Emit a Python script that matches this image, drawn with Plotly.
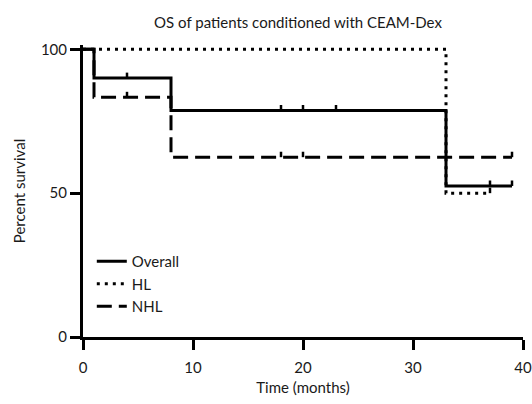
import plotly.graph_objects as go

# Kaplan-Meier step data (time in months, percent survival)
overall_t = [0, 1, 8, 33, 39]
overall_s = [100, 90, 78.75, 52.5, 52.5]
overall_c = [4, 18, 20, 23, 37, 39]

hl_t = [0, 33, 37]
hl_s = [100, 50, 50]
hl_c = [37]

nhl_t = [0, 1, 8, 39]
nhl_s = [100, 83.33, 62.5, 62.5]
nhl_c = [4, 18, 20, 39]

x_ticks = [0, 10, 20, 30, 40]
y_ticks = [0, 50, 100]

FONT = "Lato, sans-serif"
INK = "#1a1a1a"
FS = 15


def surv_at(ts, ss, t):
    idx = 0
    for i, tt in enumerate(ts):
        if tt <= t:
            idx = i
    return ss[idx]


def censor_xy(ts, ss, cs, h=1.9):
    xs, ys = [], []
    for c in cs:
        s = surv_at(ts, ss, c)
        xs += [c, c, None]
        ys += [s, s + h, None]
    return xs, ys


series = [
    ("Overall", overall_t, overall_s, overall_c, "solid"),
    ("HL", hl_t, hl_s, hl_c, "3px,5px"),
    ("NHL", nhl_t, nhl_s, nhl_c, "15px,7px"),
]

fig = go.Figure()
for name, ts, ss, cs, dash in series:
    fig.add_trace(go.Scatter(
        x=ts, y=ss, mode="lines", name=name, line_shape="hv",
        line=dict(color="black", width=3, dash=dash),
        legendgroup=name,
    ))
    cx, cy = censor_xy(ts, ss, cs)
    fig.add_trace(go.Scatter(
        x=cx, y=cy, mode="lines", showlegend=False, legendgroup=name,
        line=dict(color="black", width=2.5), hoverinfo="skip",
    ))

fig.update_layout(
    width=532, height=404,
    margin=dict(l=83, r=9, t=45, b=67),
    paper_bgcolor="white", plot_bgcolor="white",
    font=dict(family=FONT, size=FS, color=INK),
    title=dict(text="OS of patients conditioned with CEAM-Dex",
               x=298 / 532, xanchor="center", y=1 - 23 / 404, yanchor="middle",
               font=dict(size=FS, family=FONT, color=INK)),
    showlegend=True,
    legend=dict(x=0.02, y=0.315, xanchor="left", yanchor="top",
                bgcolor="rgba(0,0,0,0)", font=dict(size=FS, family=FONT, color=INK),
                itemwidth=30, tracegroupgap=0),
)
fig.update_xaxes(
    range=[0, 40], tickvals=x_ticks, ticktext=[str(v) for v in x_ticks],
    showgrid=False, zeroline=False, showline=True, linecolor="black", linewidth=3,
    ticks="outside", ticklen=10, tickwidth=3, tickcolor="black",
    ticklabelstandoff=5, automargin=False,
    tickfont=dict(size=FS, family=FONT, color=INK),
    title=dict(text="Time (months)", font=dict(size=FS, family=FONT, color=INK), standoff=8),
)
fig.update_yaxes(
    range=[0, 101.5], tickvals=y_ticks, ticktext=[str(v) for v in y_ticks],
    showgrid=False, zeroline=False, showline=True, linecolor="black", linewidth=3,
    ticks="outside", ticklen=10, tickwidth=3, tickcolor="black",
    tickfont=dict(size=FS, family=FONT, color=INK),
    title=dict(text="Percent survival", font=dict(size=FS, family=FONT, color=INK), standoff=12),
)

# remove the browser's default 8px body margin so the figure fills the window
fig.write_html("out.html", config={"displayModeBar": False},
               post_script="document.body.style.margin='0px';")
